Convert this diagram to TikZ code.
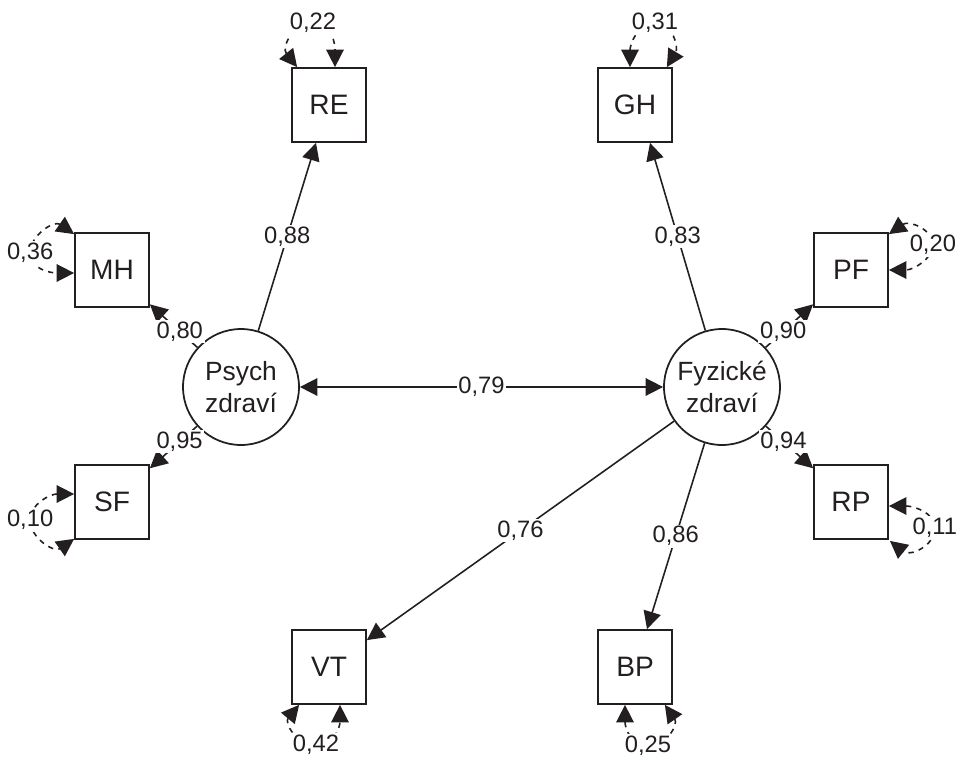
\documentclass[tikz,border=0pt]{standalone}
\usepackage{fontspec}
\setmainfont{Liberation Sans}
\usetikzlibrary{arrows.meta,calc}
\definecolor{ink}{RGB}{35,31,32}

\begin{document}
\begin{tikzpicture}[x=0.02cm,y=-0.02cm,
                    every node/.style={text=ink},
                    manifest/.style={draw=ink,line width=1pt,minimum size=1.48cm,inner sep=0pt,
                                     font=\fontsize{16}{19}\selectfont},
                    latent/.style={draw=ink,circle,line width=1pt,minimum size=2.32cm,inner sep=0pt,
                                   align=center,font=\fontsize{15}{18}\selectfont},
                    lbl/.style={fill=white,inner sep=1pt,font=\fontsize{13.5}{16}\selectfont},
                    tip/.style={Triangle[length=10pt,width=10pt]},
                    load/.style={draw=ink,line width=0.9pt,-{Triangle[length=10pt,width=10pt]}},
                    cov/.style={draw=ink,line width=0.9pt,
                                {Triangle[length=10pt,width=10pt]}-{Triangle[length=10pt,width=10pt]}},
                    errloop/.style={draw=ink,line width=0.9pt,dash pattern=on 3pt off 3pt,
                                    {Triangle[length=10pt,width=10pt]}-{Triangle[length=10pt,width=10pt]}}]
  \useasboundingbox (0,0) rectangle (958,758);

  % --- latent factors -----------------------------------------------------
  \node[latent] (psy) at (241,387) {Psych\\zdraví};
  \node[latent] (fyz) at (722,387) {Fyzické\\zdraví};

  % --- indicators -----------------------------------------------------------
  \node[manifest] (re) at (329,105) {RE};
  \node[manifest] (mh) at (112,270) {MH};
  \node[manifest] (sf) at (112,502) {SF};
  \node[manifest] (vt) at (329,667) {VT};
  \node[manifest] (gh) at (635,105) {GH};
  \node[manifest] (pf) at (851,270) {PF};
  \node[manifest] (rp) at (851,502) {RP};
  \node[manifest] (bp) at (635,667) {BP};

  % --- correlation ----------------------------------------------------------
  \draw[cov] (psy) -- node[lbl] {0,79} (fyz);

  % --- loadings -------------------------------------------------------------
  \draw[load] (psy) -- node[lbl] {0,88} ($(re.south)+(-13,0)$);
  \draw[load] (psy) -- node[lbl,pos=.37] {0,80} (mh);
  \draw[load] (psy) -- node[lbl,pos=.37] {0,95} (sf);
  \draw[load] (fyz) -- node[lbl] {0,83} ($(gh.south)+(15,0)$);
  \draw[load] (fyz) -- node[lbl,pos=.37] {0,90} (pf);
  \draw[load] (fyz) -- node[lbl,pos=.37] {0,94} (rp);
  \draw[load] (fyz) -- node[lbl] {0,76} (vt);
  \draw[load] (fyz) -- node[lbl] {0,86} ($(bp.north)+(12,0)$);

  % --- error variances ------------------------------------------------------
  \draw[errloop] ($(re.north west)+(6,0)$) .. controls +(-16,-20) and +(-20,0) ..
      ($(re.north)+(-16,-44)$) node[lbl] {0,22}
      .. controls +(20,0) and +(0,-22) .. ($(re.north)+(6,0)$);
  \draw[errloop] ($(gh.north)+(-5,0)$) .. controls +(0,-22) and +(-18,0) ..
      ($(gh.north)+(20,-44)$) node[lbl] {0,31}
      .. controls +(18,0) and +(12,-20) .. ($(gh.north east)+(-6,0)$);
  \draw[errloop] ($(mh.north west)+(0,2)$) .. controls +(-20,-14) and +(0,-18) ..
      ($(mh.west)+(-44,-17)$) node[lbl] {0,36}
      .. controls +(0,16) and +(-24,0) .. ($(mh.west)+(0,3)$);
  \draw[errloop] ($(sf.west)+(0,-8)$) .. controls +(-24,0) and +(0,-16) ..
      ($(sf.west)+(-44,18)$) node[lbl] {0,10}
      .. controls +(0,18) and +(-20,14) .. ($(sf.south west)+(0,-1)$);
  \draw[errloop] ($(pf.north east)+(0,2)$) .. controls +(20,-14) and +(0,-16) ..
      ($(pf.east)+(44,-25)$) node[lbl] {0,20}
      .. controls +(0,14) and +(24,0) .. (pf.east);
  \draw[errloop] ($(rp.east)+(0,4)$) .. controls +(24,0) and +(0,-16) ..
      ($(rp.east)+(46,26)$) node[lbl] {0,11}
      .. controls +(0,18) and +(20,16) .. ($(rp.south east)+(1,1)$);
  \draw[errloop] ($(vt.south west)+(8,0)$) .. controls +(-15,18) and +(-20,0) ..
      ($(vt.south)+(-13,40)$) node[lbl] {0,42}
      .. controls +(20,0) and +(0,20) .. ($(vt.south)+(11,0)$);
  \draw[errloop] ($(bp.south)+(-10,0)$) .. controls +(0,22) and +(-18,0) ..
      ($(bp.south)+(13,41)$) node[lbl] {0,25}
      .. controls +(18,0) and +(14,20) .. ($(bp.south east)+(-8,0)$);
\end{tikzpicture}
\end{document}
